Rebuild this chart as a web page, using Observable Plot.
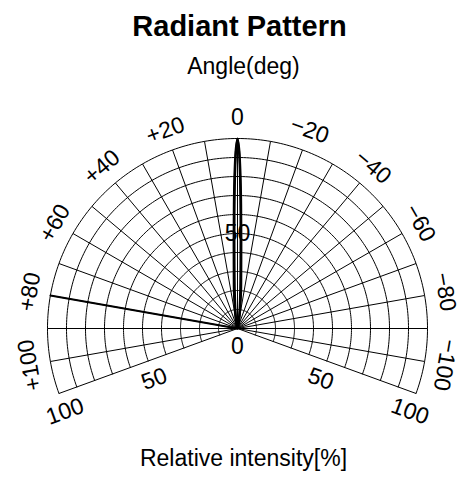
<!DOCTYPE html>
<html><head><meta charset="utf-8">
<script src="https://cdn.jsdelivr.net/npm/d3@7"></script>
<script src="https://cdn.jsdelivr.net/npm/@observablehq/plot@0.6"></script>
<style>
body{margin:0;background:#fff;font-family:"Liberation Sans",Arial,Helvetica,sans-serif;}
#wrap{position:relative;width:463px;height:483px;overflow:hidden;background:#fff}
.t{position:absolute;width:463px;text-align:center;line-height:1;color:#000;white-space:nowrap}
#chart{position:absolute;left:0;top:90px}
</style></head><body>
<div id="wrap">
<div class="t" style="left:8px;top:12px;font-size:29px;font-weight:bold">Radiant Pattern</div>
<div class="t" style="left:12px;top:55px;font-size:23px">Angle(deg)</div>
<div id="chart"></div>
<div class="t" style="left:12px;top:447px;font-size:23px">Relative intensity[%]</div>
</div>
<script>
// ---- data ----
const angleTicks = [100, 80, 60, 40, 20, 0, -20, -40, -60, -80, -100];
const angleLabels = ["+100", "+80", "+60", "+40", "+20", "0", "\u221220", "\u221240", "\u221260", "\u221280", "\u2212100"];
const spokeAngles = [-110, -100, -90, -80, -70, -60, -50, -40, -30, -20, -10, 0, 10, 20, 30, 40, 50, 60, 70, 80, 90, 100, 110];
const ringValues = [10, 20, 30, 40, 50, 60, 70, 80, 90, 100];
const angleMin = -110, angleMax = 110;
const radiusLabelValues = [50, 100];
const radiusLabels = ["50", "100"];

// measured lobe (angle in deg, relative intensity in %)
const lobeAngles = [-20, -14, -10, -8, -6, -5, -4, -3, -2.5, -2, -1.5, -1, -0.5, 0, 0.5, 1, 1.5, 2, 2.5, 3, 4, 5, 6, 8, 10, 14, 20];
const lobeA = [0, 2, 6, 10, 17, 22, 28, 38, 46, 56, 70, 84, 95, 100, 95, 84, 70, 56, 46, 38, 28, 22, 17, 10, 6, 2, 0];
const lobeB = [0, 1, 3, 6, 11, 15, 21, 30, 37, 47, 61, 78, 93, 100, 93, 78, 61, 47, 37, 30, 21, 15, 11, 6, 3, 1, 0];
// stray trace at +80 deg
const spikeAngles = [80, 80];
const spikeValues = [100, 0];

// ---- geometry helpers (data units) ----
const rad = d => d * Math.PI / 180;
const px = (a, r) => -r * Math.sin(rad(a));
const py = (a, r) => r * Math.cos(rad(a));

const W = 463, H = 350, topOff = 90;
const cx = 237, cy = 328 - topOff, k = 1.9;
const labelR = 111;
const fs = 23;

const arcs = [];
for (const r of ringValues) for (let a = angleMin; a <= angleMax; a += 1) arcs.push({r, a});
const lobe = [];
lobeAngles.forEach((a, i) => lobe.push({s: "A", a, v: lobeA[i]}));
lobeAngles.forEach((a, i) => lobe.push({s: "B", a, v: lobeB[i]}));
const spike = spikeAngles.map((a, i) => ({a, v: spikeValues[i]}));
const angleData = angleTicks.map((a, i) => ({a, t: angleLabels[i]}));
const rLab = radiusLabelValues.map((v, i) => ({v, t: radiusLabels[i]}));

const chart = Plot.plot({
  width: W, height: H, margin: 0,
  x: {axis: null, domain: [-cx / k, (W - cx) / k], range: [0, W]},
  y: {axis: null, domain: [-(H - cy) / k, cy / k], range: [H, 0]},
  style: {fontFamily: '"Liberation Sans", Arial, sans-serif', background: "transparent", color: "#000"},
  marks: [
    Plot.line(arcs, {x: d => px(d.a, d.r), y: d => py(d.a, d.r), z: "r", stroke: "#000", strokeWidth: 1}),
    Plot.link(spokeAngles, {x1: 0, y1: 0, x2: a => px(a, 100), y2: a => py(a, 100), stroke: "#000", strokeWidth: 1}),
    Plot.line(spike, {x: d => px(d.a, d.v), y: d => py(d.a, d.v), stroke: "#000", strokeWidth: 1.8}),
    Plot.line(lobe, {x: d => px(d.a, d.v), y: d => py(d.a, d.v), z: "s", stroke: "#000", strokeWidth: 2.2, curve: "catmull-rom"}),
    Plot.text(angleData, {x: d => px(d.a, labelR), y: d => py(d.a, labelR), text: "t", rotate: d => -d.a, fontSize: fs, fill: "#000"}),
    Plot.text([50], {x: 0, y: v => v, text: v => String(v), fontSize: fs, fill: "#000"}),
    Plot.text([0], {x: 0, y: v => v, text: v => String(v), fontSize: fs, fill: "#000", dy: 18}),
    Plot.text(rLab, {x: d => px(angleMax, d.v), y: d => py(angleMax, d.v), text: "t", rotate: -20, fontSize: fs, fill: "#000", dx: 6, dy: 18}),
    Plot.text(rLab, {x: d => px(angleMin, d.v), y: d => py(angleMin, d.v), text: "t", rotate: 20, fontSize: fs, fill: "#000", dx: -6, dy: 18})
  ]
});
document.getElementById("chart").appendChild(chart);
</script>
</body></html>
